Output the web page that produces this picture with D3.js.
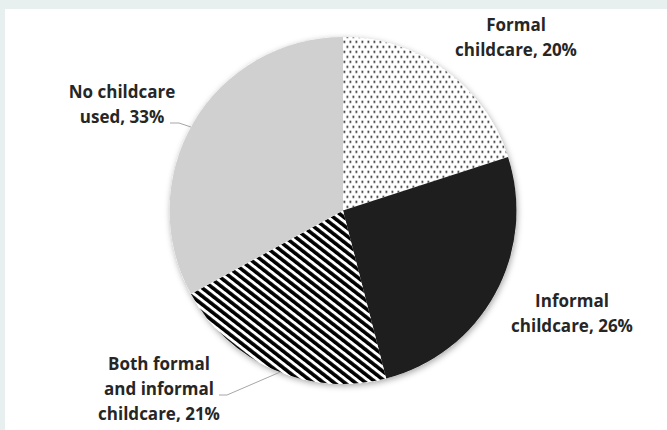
<!doctype html>
<html>
  <head>
    <style>
      body { margin: 0; background: #e7f0ee; }
      .label { font-family: "Open Sans", Lato, sans-serif; font-weight: 700; font-size: 17px; fill: #262626; }
    </style>
  </head>
  <body>
    <div id="chart"></div>
    <script src="https://d3js.org/d3.v7.min.js"></script>
    <script>
      const categories = ['Formal childcare', 'Informal childcare', 'Both formal and informal childcare', 'No childcare used'];
      const values = [20, 26, 21, 33];
      const labelLines = [
        ['Formal', 'childcare, 20%'],
        ['Informal', 'childcare, 26%'],
        ['Both formal', 'and informal', 'childcare, 21%'],
        ['No childcare', 'used, 33%']
      ];

      const width = 667, height = 430;
      const cx = 343, cy = 210.5, radius = 173.5;

      const svg = d3.select('#chart')
        .append('svg')
        .attr('width', width)
        .attr('height', height);

      const defs = svg.append('defs');

      // dotted pattern
      const dots = defs.append('pattern')
        .attr('id', 'dots')
        .attr('patternUnits', 'userSpaceOnUse')
        .attr('width', 6)
        .attr('height', 10);
      dots.append('rect').attr('width', 6).attr('height', 10).attr('fill', '#fff');
      dots.append('rect').attr('x', 0.5).attr('y', 0.5).attr('width', 1.8).attr('height', 1.8).attr('fill', '#111');
      dots.append('rect').attr('x', 3.5).attr('y', 5.5).attr('width', 1.8).attr('height', 1.8).attr('fill', '#111');

      // diagonal stripes
      const stripes = defs.append('pattern')
        .attr('id', 'stripes')
        .attr('patternUnits', 'userSpaceOnUse')
        .attr('width', 6.5)
        .attr('height', 6.5)
        .attr('patternTransform', 'rotate(-52)');
      stripes.append('rect').attr('width', 6.5).attr('height', 6.5).attr('fill', '#fff');
      stripes.append('rect').attr('width', 3.6).attr('height', 6.5).attr('fill', '#000');

      const shadow = defs.append('filter')
        .attr('id', 'shadow')
        .attr('x', '-20%').attr('y', '-20%')
        .attr('width', '140%').attr('height', '140%');
      shadow.append('feDropShadow')
        .attr('dx', 1).attr('dy', 2)
        .attr('stdDeviation', 3)
        .attr('flood-color', '#000')
        .attr('flood-opacity', 0.35);

      svg.append('rect')
        .attr('x', 5).attr('y', 9)
        .attr('width', width - 5).attr('height', height - 9)
        .attr('fill', '#fff');

      const fills = ['url(#dots)', '#1e1e1e', 'url(#stripes)', '#d0d0d0'];
      const color = d3.scaleOrdinal(categories, fills);

      const pie = d3.pie().sort(null).value(d => d.value);
      const arc = d3.arc().innerRadius(0).outerRadius(radius);
      const data = categories.map((c, i) => ({ name: c, value: values[i], lines: labelLines[i] }));
      const arcs = pie(data);

      const g = svg.append('g').attr('transform', `translate(${cx},${cy})`);

      g.append('circle').attr('r', radius).attr('fill', '#fff').attr('filter', 'url(#shadow)');

      g.selectAll('path')
        .data(arcs)
        .join('path')
        .attr('d', arc)
        .attr('fill', d => color(d.data.name));

      // label placement (page coordinates of first baseline)
      const labelPos = [
        { x: 516, y: 31 },
        { x: 572, y: 307 },
        { x: 159, y: 370 },
        { x: 122, y: 98 }
      ];
      const lineHeight = 25;

      svg.selectAll('text.label')
        .data(arcs)
        .join('text')
        .attr('class', 'label')
        .attr('text-anchor', 'middle')
        .each(function (d, i) {
          d3.select(this).selectAll('tspan')
            .data(d.data.lines)
            .join('tspan')
            .attr('x', labelPos[i].x)
            .attr('y', (t, j) => labelPos[i].y + j * lineHeight)
            .text(t => t);
        });

      // leader lines for the two left labels
      const edgePoint = angle => [cx + radius * Math.sin(angle), cy - radius * Math.cos(angle)];
      const leaders = [
        { start: [170, 123], knee: [179, 123], end: edgePoint(Math.PI * 2 - Math.acos((cy - 127) / radius)) },
        { start: [219, 395], knee: [227, 395], end: edgePoint(Math.PI + Math.asin((cx - 280) / radius)) }
      ];
      leaders.forEach(l => {
        svg.append('polyline')
          .attr('points', [l.start, l.knee, l.end].map(p => p.join(',')).join(' '))
          .attr('fill', 'none')
          .attr('stroke', '#a6a6a6')
          .attr('stroke-width', 1);
      });
    </script>
  </body>
</html>
